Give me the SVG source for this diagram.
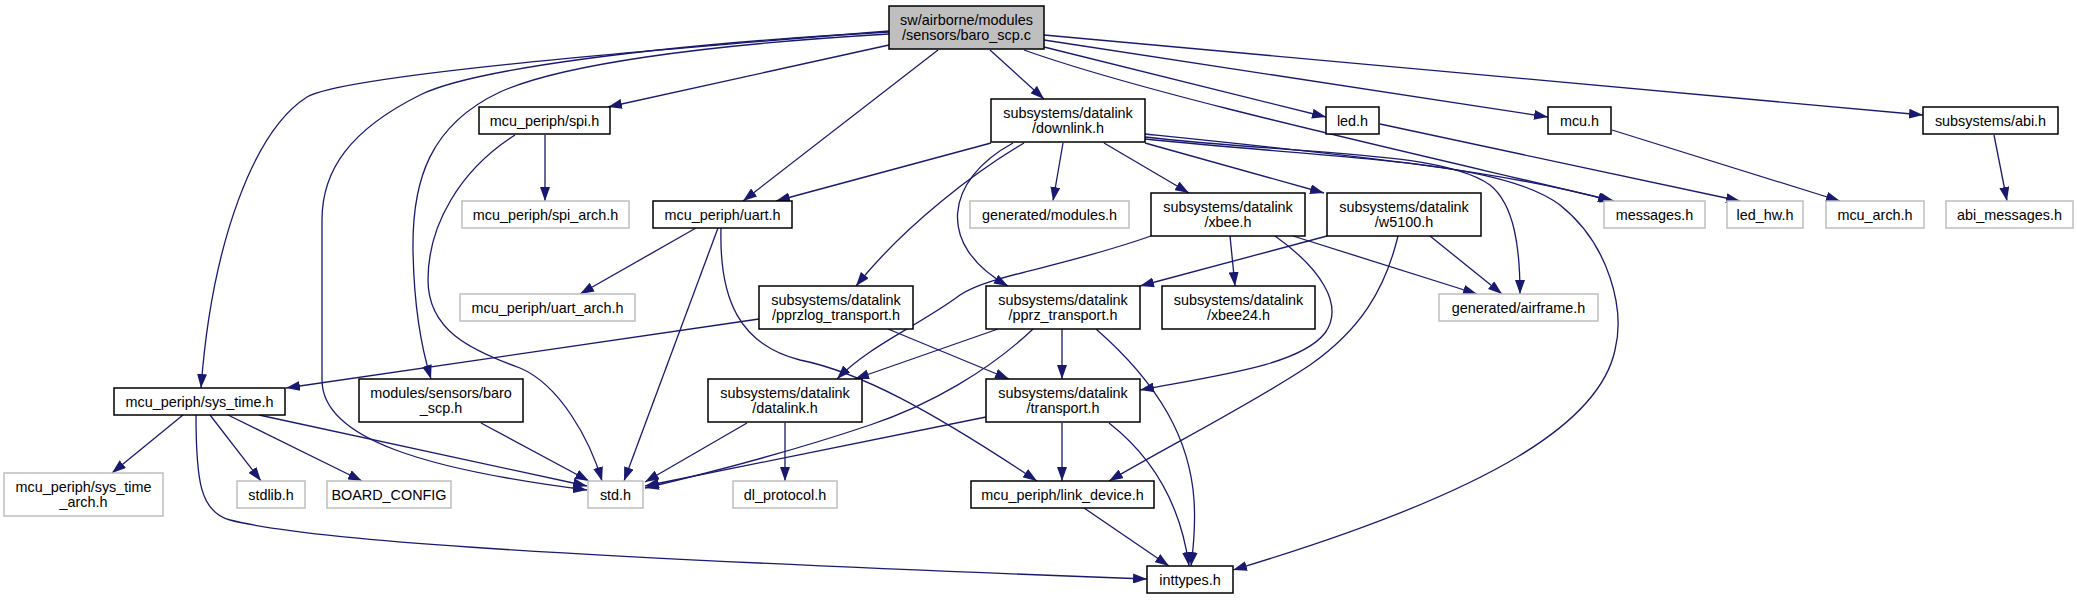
<svg xmlns="http://www.w3.org/2000/svg" width="2077" height="600" viewBox="0 0 2077 600">
<defs>
<style>
.n rect{fill:#ffffff;stroke:#000000;stroke-width:1.5}
.g rect{fill:#ffffff;stroke:#bfbfbf;stroke-width:1.5}
.r rect{fill:#bfbfbf;stroke:#000000;stroke-width:1.5}
text{font-family:"Liberation Sans",Arial,sans-serif;font-size:14.4px;fill:#000000;text-anchor:middle}
.e path{fill:none;stroke:#191970;stroke-width:1.3;marker-end:url(#a)}
</style>
<marker id="a" markerWidth="14" markerHeight="10" refX="14" refY="5" orient="auto" markerUnits="userSpaceOnUse">
<path d="M0,0 L14,5 L0,10 z" fill="#191970"/>
</marker>
</defs>
<rect width="2077" height="600" fill="#ffffff"/>
<g class="e" id="edges">
<path d="M889,31 C650,50 345,75 307,97 C255,130 212,240 201,388"/>
<path d="M889,32 C650,45 470,70 420,95 C350,130 322,170 322,220 L322,380 C322,440 430,470 587,490"/>
<path d="M889,34 C700,45 560,65 500,92 C430,125 412,180 413,250 C414,310 422,350 431,379"/>
<path d="M889,45 L608,107"/>
<path d="M938,50 L743,201"/>
<path d="M990,50 L1044,99"/>
<path d="M1024,50 C1150,95 1400,150 1614,201"/>
<path d="M1044,47 L1326,117"/>
<path d="M1044,40 L1548,117"/>
<path d="M1044,35 L1923,115"/>
<path d="M991,143 L776,201"/>
<path d="M1024,143 C975,172 905,225 856,286"/>
<path d="M1013,143 C945,180 935,245 1008,286"/>
<path d="M1063,143 L1053,201"/>
<path d="M1104,143 L1189,193"/>
<path d="M1145,143 L1324,193"/>
<path d="M1145,134 C1350,155 1500,170 1612,201"/>
<path d="M1145,137 C1300,155 1440,150 1490,185 C1515,205 1520,250 1520,294"/>
<path d="M1145,139 C1350,160 1500,160 1560,205 C1610,245 1625,310 1615,350 C1600,420 1500,490 1233,570"/>
<path d="M545,135 L545,201"/>
<path d="M515,135 C460,170 428,225 428,280 C428,330 470,350 520,368 C560,385 590,440 602,481"/>
<path d="M696,228 L580,294"/>
<path d="M718,228 L624,481"/>
<path d="M721,228 C719,300 740,345 800,360 C860,372 930,410 1037,481"/>
<path d="M1151,236 C1060,268 990,275 960,295 C920,325 870,345 837,379"/>
<path d="M1230,236 L1235,286"/>
<path d="M1275,236 C1320,268 1345,305 1325,333 C1300,365 1220,375 1140,390"/>
<path d="M1293,236 L1477,294"/>
<path d="M1327,236 L1140,286"/>
<path d="M1430,236 L1502,294"/>
<path d="M1398,236 C1385,290 1360,330 1310,365 C1250,405 1170,445 1109,481"/>
<path d="M759,319 L286,388"/>
<path d="M888,329 L1009,379"/>
<path d="M998,329 L855,379"/>
<path d="M1033,329 C990,370 930,405 870,425 C790,452 700,475 645,488"/>
<path d="M1062,329 L1062,379"/>
<path d="M1096,329 C1160,385 1190,440 1194,500 C1196,530 1193,550 1191,566"/>
<path d="M747,423 L645,482"/>
<path d="M785,423 L785,481"/>
<path d="M986,417 L645,486"/>
<path d="M1062,423 L1062,481"/>
<path d="M1109,423 C1150,455 1180,500 1189,566"/>
<path d="M1084,508 L1169,566"/>
<path d="M183,415 L112,473"/>
<path d="M210,415 L261,481"/>
<path d="M228,415 L362,481"/>
<path d="M259,415 L587,486"/>
<path d="M196,415 C196,480 200,512 230,520 C300,538 500,555 1147,579"/>
<path d="M481,423 L589,481"/>
<path d="M1380,124 L1740,201"/>
<path d="M1612,130 L1840,201"/>
<path d="M1994,135 L2007,201"/>
</g>
<g id="root" class="r"><rect x="889" y="6" width="155" height="43"/><text x="966.5" y="24.5">sw/airborne/modules</text><text x="966.5" y="39.5">/sensors/baro_scp.c</text></g>
<g id="spi" class="n"><rect x="479" y="107" width="131" height="27"/><text x="544.5" y="125.5">mcu_periph/spi.h</text></g>
<g id="downlink" class="n"><rect x="991" y="99" width="154" height="43"/><text x="1068" y="117.5">subsystems/datalink</text><text x="1068" y="132.5">/downlink.h</text></g>
<g id="led" class="n"><rect x="1326" y="107" width="53" height="27"/><text x="1352.5" y="125.5">led.h</text></g>
<g id="mcu" class="n"><rect x="1548" y="107" width="63" height="27"/><text x="1579.5" y="125.5">mcu.h</text></g>
<g id="abi" class="n"><rect x="1923" y="107" width="135" height="27"/><text x="1990.5" y="125.5">subsystems/abi.h</text></g>
<g id="uart" class="n"><rect x="653" y="201" width="139" height="27"/><text x="722.5" y="219.5">mcu_periph/uart.h</text></g>
<g id="xbee" class="n"><rect x="1151" y="193" width="154" height="43"/><text x="1228" y="211.5">subsystems/datalink</text><text x="1228" y="226.5">/xbee.h</text></g>
<g id="w5100" class="n"><rect x="1327" y="193" width="154" height="43"/><text x="1404" y="211.5">subsystems/datalink</text><text x="1404" y="226.5">/w5100.h</text></g>
<g id="pprzlog" class="n"><rect x="759" y="286" width="154" height="43"/><text x="836" y="304.5">subsystems/datalink</text><text x="836" y="319.5">/pprzlog_transport.h</text></g>
<g id="pprz" class="n"><rect x="986" y="286" width="154" height="43"/><text x="1063" y="304.5">subsystems/datalink</text><text x="1063" y="319.5">/pprz_transport.h</text></g>
<g id="xbee24" class="n"><rect x="1162" y="286" width="153" height="43"/><text x="1238.5" y="304.5">subsystems/datalink</text><text x="1238.5" y="319.5">/xbee24.h</text></g>
<g id="systime" class="n"><rect x="114" y="388" width="171" height="27"/><text x="199.5" y="406.5">mcu_periph/sys_time.h</text></g>
<g id="baroscph" class="n"><rect x="359" y="379" width="164" height="43"/><text x="441" y="397.5">modules/sensors/baro</text><text x="441" y="412.5">_scp.h</text></g>
<g id="datalink" class="n"><rect x="708" y="379" width="154" height="43"/><text x="785" y="397.5">subsystems/datalink</text><text x="785" y="412.5">/datalink.h</text></g>
<g id="transport" class="n"><rect x="986" y="379" width="154" height="43"/><text x="1063" y="397.5">subsystems/datalink</text><text x="1063" y="412.5">/transport.h</text></g>
<g id="linkdevice" class="n"><rect x="971" y="481" width="183" height="27"/><text x="1062.5" y="499.5">mcu_periph/link_device.h</text></g>
<g id="inttypes" class="n"><rect x="1147" y="566" width="86" height="27"/><text x="1190" y="584.5">inttypes.h</text></g>
<g id="spiarch" class="g"><rect x="462" y="201" width="167" height="27"/><text x="545.5" y="219.5">mcu_periph/spi_arch.h</text></g>
<g id="modules" class="g"><rect x="970" y="201" width="159" height="27"/><text x="1049.5" y="219.5">generated/modules.h</text></g>
<g id="messages" class="g"><rect x="1604" y="201" width="101" height="27"/><text x="1654.5" y="219.5">messages.h</text></g>
<g id="ledhw" class="g"><rect x="1727" y="201" width="76" height="27"/><text x="1765" y="219.5">led_hw.h</text></g>
<g id="mcuarch" class="g"><rect x="1826" y="201" width="98" height="27"/><text x="1875" y="219.5">mcu_arch.h</text></g>
<g id="abimessages" class="g"><rect x="1946" y="201" width="127" height="27"/><text x="2009.5" y="219.5">abi_messages.h</text></g>
<g id="uartarch" class="g"><rect x="460" y="294" width="175" height="27"/><text x="547.5" y="312.5">mcu_periph/uart_arch.h</text></g>
<g id="airframe" class="g"><rect x="1439" y="294" width="159" height="27"/><text x="1518.5" y="312.5">generated/airframe.h</text></g>
<g id="systimearch" class="g"><rect x="4" y="473" width="159" height="43"/><text x="83.5" y="491.5">mcu_periph/sys_time</text><text x="83.5" y="506.5">_arch.h</text></g>
<g id="stdlib" class="g"><rect x="237" y="481" width="68" height="27"/><text x="271" y="499.5">stdlib.h</text></g>
<g id="boardconfig" class="g"><rect x="327" y="481" width="124" height="27"/><text x="389" y="499.5">BOARD_CONFIG</text></g>
<g id="std" class="g"><rect x="588" y="481" width="55" height="27"/><text x="615.5" y="499.5">std.h</text></g>
<g id="dlprotocol" class="g"><rect x="733" y="481" width="104" height="27"/><text x="785" y="499.5">dl_protocol.h</text></g>
</svg>
